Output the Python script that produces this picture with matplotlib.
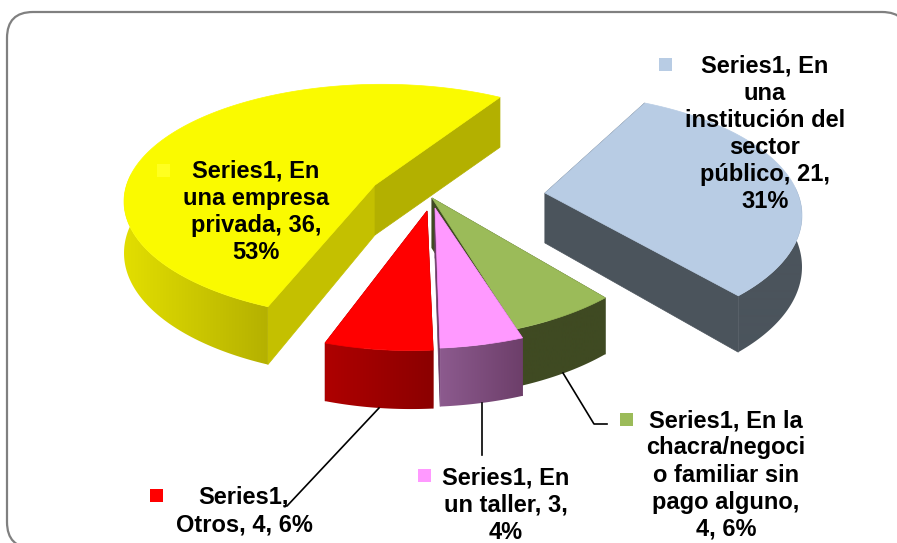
import matplotlib
matplotlib.use("Agg")
import matplotlib.pyplot as plt
import matplotlib.colors as mcolors
from matplotlib.patches import FancyBboxPatch, Polygon, Rectangle
import numpy as np

plt.rcParams['font.family'] = ['Liberation Sans', 'DejaVu Sans']

# chart data, clockwise from the blue slice
categories = ["En una institución del sector público", "En la chacra/negocio familiar sin pago alguno",
              "En un taller", "Otros", "En una empresa privada"]
values = [21, 4, 3, 4, 36]
labels = ["Series1, En\nuna\ninstitución del\nsector\npúblico, 21,\n31%",
          "Series1, En la\nchacra/negoci\no familiar sin\npago alguno,\n4, 6%",
          "Series1, En\nun taller, 3,\n4%",
          "Series1,\nOtros, 4, 6%",
          "Series1, En\nuna empresa\nprivada, 36,\n53%"]

top_colors = ["#B8CCE4", "#9BBB59", "#FF99FF", "#FF0000", "#FAFA00"]
side_left = ["#4B545C", "#3F4A22", "#8C5A8E", "#AE0000", "#E2DE00"]
side_right = ["#4B545C", "#3F4A22", "#6D3F6A", "#8B0000", "#B5B100"]
face_start = ["#4B545C", "#3F4A22", "#6D3F6A", "#8B0000", "#C4C000"]
face_end = ["#4B545C", "#3F4A22", "#6D3F6A", "#8B0000", "#B3B000"]

# pixel layout of the exploded 3d pie
apex = [(545, 193), (432, 198), (435, 208), (427, 211), (375, 185)]
arc_center = [(544, 193), (411, 195), (417, 204), (411, 206), (382, 180)]
rot = [0, 0, 0, 0, -5]
sx = [1, 1, 1, 0.96, 1]
sy = [1, 1, 1, 1, 0.96]
A, B, k = 253.6, 118.0, 0.1837
start = 62.5

fig = plt.figure(figsize=(8.97, 5.43), dpi=100)
ax = fig.add_axes([0, 0, 1, 1])
ax.axis("off")

ax.add_patch(FancyBboxPatch((7, 12), 901, 536, boxstyle="round,pad=0,rounding_size=26",
                            fc="white", ec="#808080", lw=1.6, zorder=1))


def arc_points(i, t0, t1, n):
    t = np.radians(np.linspace(t0, t1, n))
    u, v = np.cos(t), np.sin(t)
    x = arc_center[i][0] + sx[i] * A * u / (1 + k * v)
    y = arc_center[i][1] - sy[i] * B * v / (1 + k * v)
    depth = 50 - 8.5 * np.minimum(v, 0)
    return x, y, depth, v


# slice angles from the values
fracs = np.array(values) / sum(values) * 360
ends = start - np.cumsum(fracs)
starts = ends + fracs

z = 2
for i in [4, 0, 1, 2, 3]:
    n = int(fracs[i] * 2) + 2
    x, y, d, v = arc_points(i, starts[i] + rot[i], ends[i] + rot[i], n)
    ax0, ay0 = apex[i]

    # radial faces
    for j, col in [(0, face_start[i]), (-1, face_end[i])]:
        ax.add_patch(Polygon([(ax0, ay0), (x[j], y[j]), (x[j], y[j] + d[j]), (ax0, ay0 + 50)],
                             fc=col, ec=col, lw=0.5, zorder=z))
        z += 1

    # outer wall, front part only, shaded left to right with a clipped gradient
    front = v < 0.05
    xf, yf, df = x[front], y[front], d[front]
    wall = Polygon(list(zip(xf, yf)) + list(zip(xf[::-1], (yf + df)[::-1])), transform=ax.transData)
    c0 = np.array(mcolors.to_rgb(side_left[i]))
    c1 = np.array(mcolors.to_rgb(side_right[i]))
    grad = np.linspace(0, 1, 64)[None, :, None] * (c1 - c0) + c0
    im = ax.imshow(grad, extent=(xf.min(), xf.max(), 543, 0),
                   aspect="auto", interpolation="bilinear", zorder=z)
    im.set_clip_path(wall)
    z += 1

    # top surface
    pts = [(ax0, ay0)] + list(zip(x, y))
    ax.add_patch(Polygon(pts, fc=top_colors[i], ec=top_colors[i], lw=0.5, zorder=z))
    z += 1

# leader lines
ax.plot([563, 594, 607], [373, 424, 424], color="black", lw=1.2, zorder=z)
ax.plot([482, 482], [403, 455], color="black", lw=1.2, zorder=z)
ax.plot([379, 287, 284], [408, 506, 506], color="black", lw=1.2, zorder=z)

# data labels with their key squares
label_pos = [(765, 134), (726, 475), (506, 505), (244, 511), (256, 212)]
key_pos = [(665, 64), (626, 419), (424, 475), (156, 495), (163, 170)]
key_colors = ["#B8CCE4", "#9BBB59", "#FF99FF", "#FF0000", "#FFFF20"]
for i in range(5):
    ax.text(label_pos[i][0], label_pos[i][1], labels[i], ha="center", va="center",
            fontsize=17.0, fontweight="bold", color="black", linespacing=1.23, zorder=z + 1)
    ax.add_patch(Rectangle((key_pos[i][0] - 6, key_pos[i][1] - 6), 12.5, 12.5,
                           fc=key_colors[i], ec="none", zorder=z + 1))

ax.set_xlim(0, 897)
ax.set_ylim(543, 0)
fig.savefig("out.png", dpi=100)
